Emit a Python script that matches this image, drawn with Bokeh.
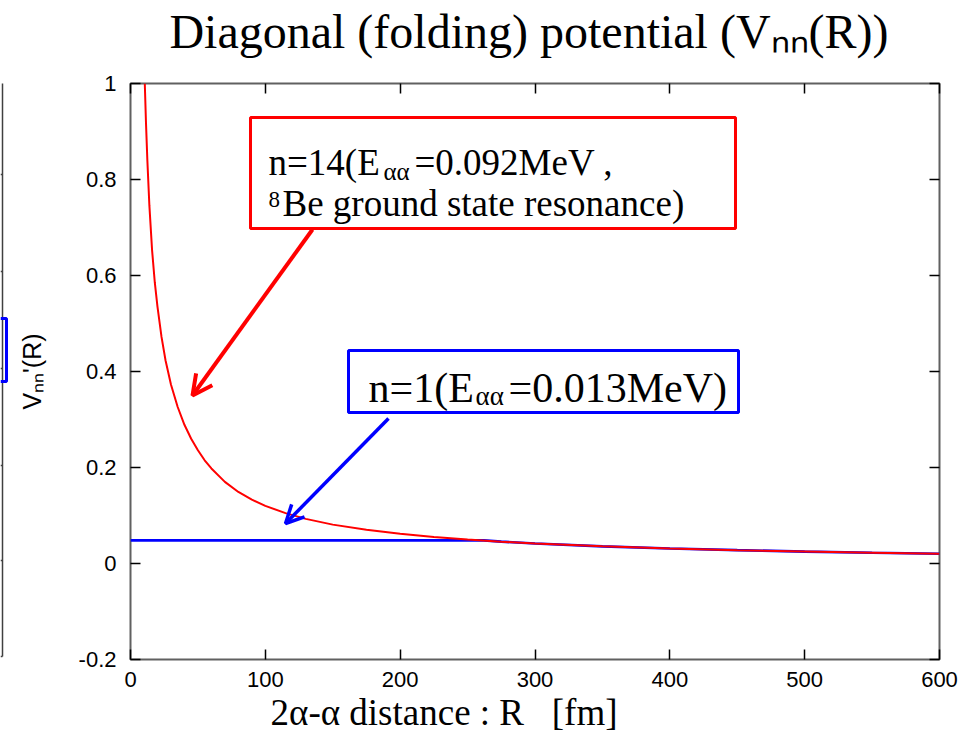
from bokeh.plotting import figure
from bokeh.models import (Range1d, LinearAxis, Label, Arrow, OpenHead, BoxAnnotation,
                          FixedTicker, CustomJSTickFormatter, Title)
from bokeh.layouts import row
from bokeh.embed import file_html
from bokeh.resources import INLINE

# ---------------- data ----------------
R_n14 = [10.6, 11.5, 12.5, 14, 16, 18, 20, 23, 26, 30, 35, 40, 45, 50, 55, 60, 70, 80, 90,
         100, 115, 130, 150, 175, 200, 225, 250, 275, 300, 350, 400, 450, 500, 550, 600]
V_n14 = [1.000, 0.917, 0.840, 0.746, 0.653, 0.586, 0.535, 0.472, 0.423, 0.373, 0.326, 0.289,
         0.260, 0.236, 0.215, 0.198, 0.170, 0.149, 0.133, 0.120, 0.105, 0.093, 0.081, 0.0703,
         0.062, 0.0553, 0.050, 0.0455, 0.0417, 0.0357, 0.0313, 0.0277, 0.0248, 0.0224, 0.0203]

R_n1 = [0, 262, 275, 300, 350, 400, 450, 500, 550, 600]
V_n1 = [0.048, 0.048, 0.0455, 0.0417, 0.0357, 0.0313, 0.0277, 0.0248, 0.0224, 0.0203]

x_ticks = [0, 100, 200, 300, 400, 500, 600]
y_ticks = [-0.2, 0, 0.2, 0.4, 0.6, 0.8, 1]

title_text = "Diagonal (folding) potential (V\u2099\u2099(R))\u00a0"
xlabel_text = "2\u03b1-\u03b1 distance : R\u00a0\u00a0\u00a0[fm]"
ylabel_text = "V\u2099\u2099'(R)"
red_note = ["n=14(E", "\u03b1\u03b1", "=0.092MeV ,", "8", "Be ground state resonance)"]
blue_note = ["n=1(E", "\u03b1\u03b1", "=0.013MeV)"]

# ---------------- layout (page pixels) ----------------
W, H = 979, 738
FRAG_W = 12
FL, FR, FT, FB = 130, 939, 83, 659
X0, X1, Y0, Y1 = 0, 600, -0.2, 1.0


def dx(px):
    return X0 + (px - FL) / (FR - FL) * (X1 - X0)


def dy(py):
    return Y1 - (py - FT) / (FB - FT) * (Y1 - Y0)


SERIF = "Liberation Serif"
SANS = "Liberation Sans"
RED = "#ff0000"
BLUE = "#0000ff"

p = figure(width=W - FRAG_W, height=H, x_range=Range1d(X0, X1), y_range=Range1d(Y0, Y1),
           x_axis_type=None, y_axis_type=None,
           output_backend="svg", toolbar_location=None,
           min_border_left=FL - FRAG_W, min_border_right=W - FR,
           min_border_top=FT, min_border_bottom=H - FB)
p.grid.visible = False
p.outline_line_color = "#606060"
p.outline_line_width = 2
p.background_fill_color = "white"
p.border_fill_color = "white"


def style_axis(ax, ticks, labels=True):
    ax.ticker = FixedTicker(ticks=ticks)
    ax.axis_line_color = None
    ax.major_tick_in = 10
    ax.major_tick_out = 0
    ax.minor_tick_in = 0
    ax.minor_tick_out = 0
    ax.major_tick_line_color = "black"
    ax.major_tick_line_width = 1.5
    ax.major_label_text_font = SANS
    ax.major_label_text_font_size = "22px"
    ax.major_label_text_color = "black"
    if not labels:
        ax.formatter = CustomJSTickFormatter(code="return ''")
        ax.major_label_standoff = 0
        ax.major_label_text_font_size = "1px"


xb = LinearAxis()
xt = LinearAxis()
yl = LinearAxis()
yr = LinearAxis()
style_axis(xb, x_ticks)
style_axis(xt, x_ticks, labels=False)
style_axis(yl, y_ticks)
style_axis(yr, y_ticks, labels=False)
xb.major_label_standoff = 12
yl.major_label_standoff = 14
yl.formatter = CustomJSTickFormatter(code="return tick == 0 ? '0' : (Math.round(tick*10)/10).toString()")
yl.axis_label = ylabel_text
yl.axis_label_text_font = SANS
yl.axis_label_text_font_size = "25px"
yl.axis_label_text_font_style = "normal"
yl.axis_label_text_color = "black"
yl.axis_label_standoff = 30

# chart title, carried by the mirrored top axis
xt.axis_label = title_text
xt.axis_label_text_font = SERIF
xt.axis_label_text_font_size = "48px"
xt.axis_label_text_font_style = "normal"
xt.axis_label_text_color = "black"
xt.axis_label_standoff = 26

p.add_layout(xb, "below")
p.add_layout(xt, "above")
p.add_layout(yl, "left")
p.add_layout(yr, "right")

# x axis title (below the tick labels)
p.add_layout(Title(text=xlabel_text, align="left", offset=270 - FL, standoff=0,
                   text_font=SERIF, text_font_size="37px", text_font_style="normal",
                   text_color="black"), "below")

# curves
p.line(R_n1, V_n1, line_color=BLUE, line_width=2.7)
p.line(R_n14, V_n14, line_color=RED, line_width=2)


def lab(text, px, py, size, font=SERIF, color="black"):
    p.add_layout(Label(x=dx(px), y=dy(py), text=text, text_font=font,
                       text_font_size=f"{size}px", text_color=color,
                       text_align="left", text_baseline="alphabetic"))


# red note box
p.add_layout(BoxAnnotation(left=dx(250), right=dx(735), top=dy(117), bottom=dy(228),
                           fill_color=None, line_color=RED, line_alpha=1.0, line_width=3))
lab(red_note[0], 268, 162, 37)
lab(red_note[1], 383, 171, 25)
lab(red_note[2], 414, 162, 37)
lab(red_note[3], 268, 199, 23)
lab(red_note[4], 282, 203, 37)
p.add_layout(Arrow(end=OpenHead(size=20, line_color=RED, line_width=4),
                   x_start=dx(312), y_start=dy(229), x_end=dx(192), y_end=dy(395),
                   line_color=RED, line_width=4))

# blue note box
p.add_layout(BoxAnnotation(left=dx(348), right=dx(738), top=dy(350), bottom=dy(412),
                           fill_color=None, line_color=BLUE, line_alpha=1.0, line_width=3))
lab(blue_note[0], 368, 387, 42)
lab(blue_note[1], 475, 395, 27)
lab(blue_note[2], 508, 387, 42)
p.add_layout(Arrow(end=OpenHead(size=18, line_color=BLUE, line_width=3.5),
                   x_start=dx(388), y_start=dy(418), x_end=dx(285), y_end=dy(523),
                   line_color=BLUE, line_width=3.5))

# ---------------- cut-off neighbour panel at the left edge ----------------
frag_frame_x = [2, 2]
frag_frame_y = [79, 656]
frag_tick_y = [79, 174, 271, 368, 465, 560, 656]
frag_box_y = [318, 381]

f = figure(width=FRAG_W, height=H, x_range=Range1d(0, FRAG_W), y_range=Range1d(FB, FT),
           x_axis_type=None, y_axis_type=None, output_backend="svg", toolbar_location=None,
           min_border_left=0, min_border_right=0, min_border_top=FT, min_border_bottom=H - FB,
           outline_line_color=None)
f.grid.visible = False
f.line(frag_frame_x, frag_frame_y, line_color="#404040", line_width=1.5)
f.segment(x0=[0] * len(frag_tick_y), y0=frag_tick_y, x1=[2] * len(frag_tick_y), y1=frag_tick_y,
          line_color="#404040", line_width=1.5)
f.line([0, 6, 6, 0], [frag_box_y[0], frag_box_y[0], frag_box_y[1], frag_box_y[1]],
       line_color=BLUE, line_width=3)

layout = row(f, p)
open("out.html", "w").write(file_html(layout, INLINE))
